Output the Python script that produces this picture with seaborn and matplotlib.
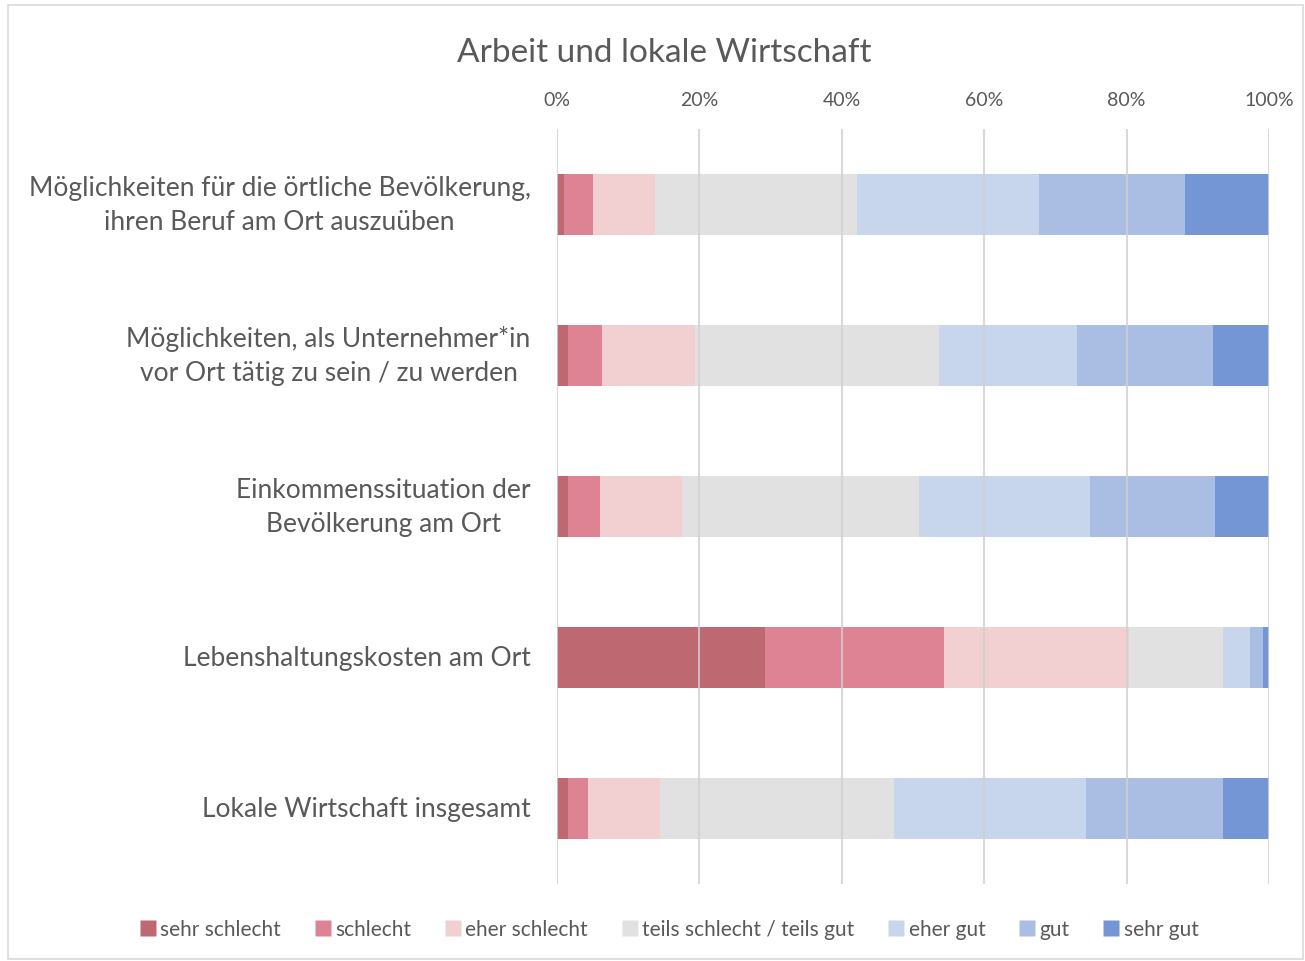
import matplotlib
matplotlib.use("Agg")
import matplotlib.pyplot as plt
import seaborn as sns
import numpy as np
import pandas as pd
from matplotlib.patches import Rectangle
from matplotlib.lines import Line2D

categories = [
    "Möglichkeiten für die örtliche Bevölkerung,\nihren Beruf am Ort auszuüben",
    "Möglichkeiten, als Unternehmer*in\nvor Ort tätig zu sein / zu werden",
    "Einkommenssituation der\nBevölkerung am Ort",
    "Lebenshaltungskosten am Ort",
    "Lokale Wirtschaft insgesamt",
]
series = ["sehr schlecht", "schlecht", "eher schlecht", "teils schlecht / teils gut",
          "eher gut", "gut", "sehr gut"]
sehr_schlecht = [1.0, 1.5, 1.5, 29.2, 1.5]
schlecht = [4.0, 4.8, 4.6, 25.1, 2.8]
eher_schlecht = [8.8, 13.1, 11.5, 26.1, 10.2]
teils = [28.3, 34.3, 33.3, 13.1, 32.9]
eher_gut = [25.6, 19.3, 23.9, 3.8, 26.9]
gut = [20.5, 19.1, 17.6, 1.9, 19.3]
sehr_gut = [11.8, 7.9, 7.6, 0.8, 6.4]
xticks = [0, 20, 40, 60, 80, 100]
xticklabels = ["0%", "20%", "40%", "60%", "80%", "100%"]
colors = ["#BE6872", "#DE8394", "#F2CFD0", "#E1E1E1", "#C7D6EC", "#AABEE4", "#7496D4"]

vals = np.array([sehr_schlecht, schlecht, eher_schlecht, teils, eher_gut, gut, sehr_gut])
cum = np.cumsum(vals, axis=0)

sns.set_style("white")
plt.rcParams['font.family'] = ['Lato', 'DejaVu Sans']
text_color = "#595959"

fig = plt.figure(figsize=(13.05, 9.62), dpi=100)
ax = fig.add_axes([557/1305, 1-885/962, (1269-557)/1305, (885-130)/962])

# draw from largest cumulative to smallest so smaller ones overlay
for i in range(len(series) - 1, -1, -1):
    df = pd.DataFrame({"cat": categories, "val": cum[i]})
    sns.barplot(data=df, x="val", y="cat", orient="h", color=colors[i],
                width=0.4, ax=ax, saturation=1, edgecolor="none", zorder=2)

ax.set_xlim(0, 100)
ax.set_ylim(4.5, -0.5)
ax.set_xticks(xticks)
ax.set_xticklabels(xticklabels)
ax.xaxis.tick_top()
ax.tick_params(axis="x", length=0, pad=15, labelsize=14, labelcolor=text_color)
ax.tick_params(axis="y", length=0, pad=19, labelsize=19, labelcolor=text_color)
for lab in ax.get_yticklabels():
    lab.set_multialignment("center")
    lab.set_linespacing(1.45)
    lab.set_verticalalignment("center")
ax.set_xlabel("")
ax.set_ylabel("")
for s in ax.spines.values():
    s.set_visible(False)
for x in xticks:
    ax.axvline(x, color="#D0D0D0", lw=1.5, zorder=3, alpha=0.8)

fig.text(664/1305, 1-53/962, "Arbeit und lokale Wirtschaft", ha="center", va="center",
         fontsize=24, color=text_color)

handles = [Line2D([0], [0], marker="s", linestyle="none", markersize=11,
                  markerfacecolor=c, markeredgecolor="none") for c in colors]
fig.legend(handles, series, loc="center", bbox_to_anchor=(668/1305, 1-930/962),
           ncol=7, frameon=False, fontsize=15, labelcolor=text_color,
           handletextpad=0.1, columnspacing=1.5, handlelength=1.0)

fig.patches.append(Rectangle((8/1305, 0.002), 1-10/1305, 1-8/962, transform=fig.transFigure,
                             fill=False, edgecolor="#D9D9D9", lw=1.2))

fig.savefig("out.png", dpi=100)
